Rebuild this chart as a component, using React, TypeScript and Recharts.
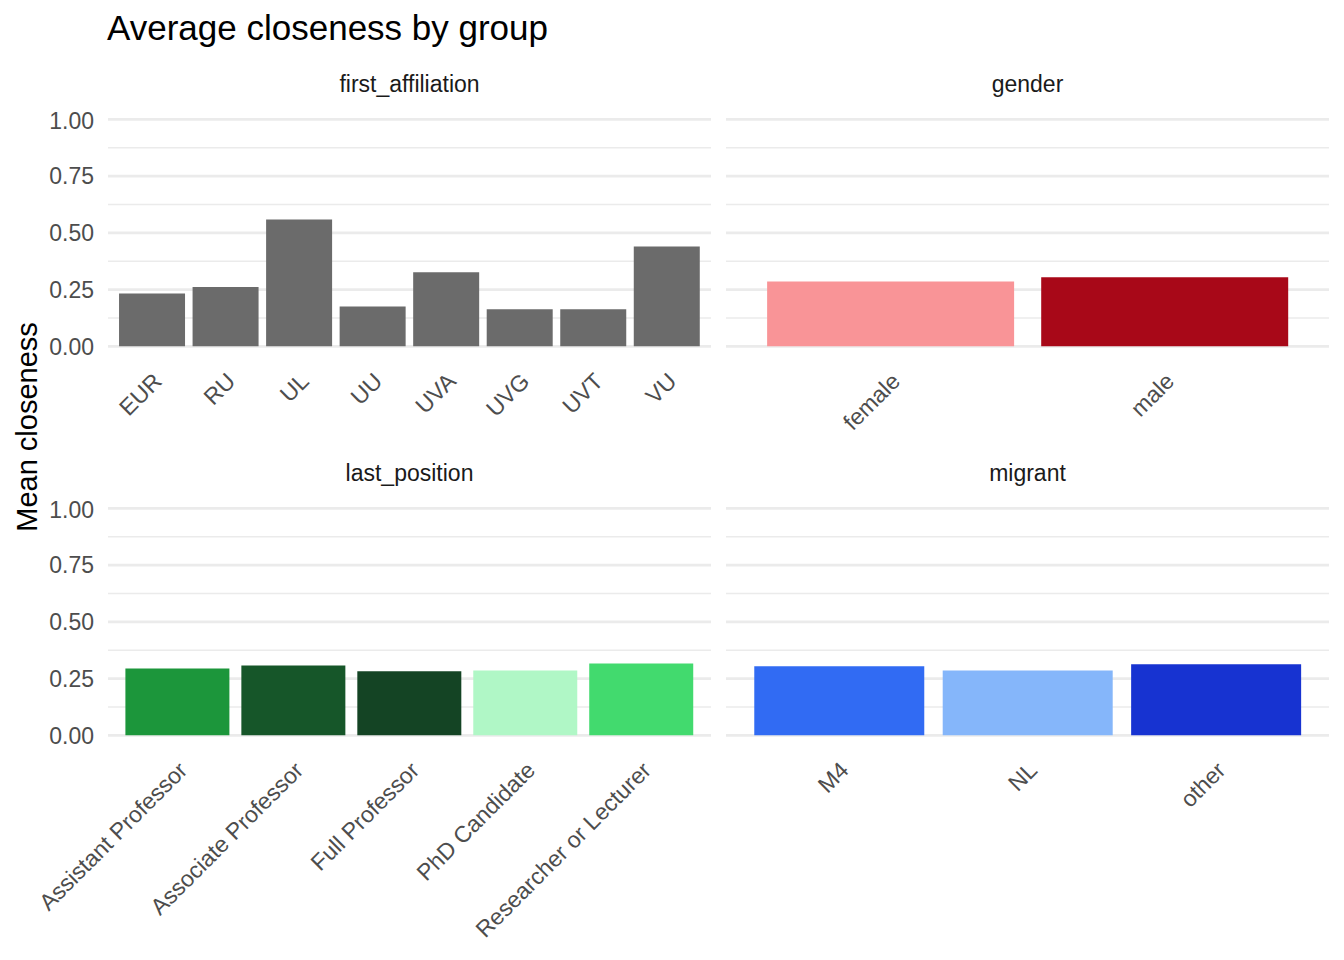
import { BarChart, Bar, XAxis, YAxis, CartesianGrid, Cell } from 'recharts';

const affiliationCats = ['EUR', 'RU', 'UL', 'UU', 'UVA', 'UVG', 'UVT', 'VU'];
const affiliationVals = [0.233, 0.261, 0.559, 0.176, 0.326, 0.163, 0.163, 0.44];
const affiliationColors = ['#6B6B6B', '#6B6B6B', '#6B6B6B', '#6B6B6B', '#6B6B6B', '#6B6B6B', '#6B6B6B', '#6B6B6B'];

const genderCats = ['female', 'male'];
const genderVals = [0.286, 0.304];
const genderColors = ['#F99497', '#A80818'];

const positionCats = ['Assistant Professor', 'Associate Professor', 'Full Professor', 'PhD Candidate', 'Researcher or Lecturer'];
const positionVals = [0.295, 0.308, 0.282, 0.286, 0.317];
const positionColors = ['#1C963B', '#165629', '#144424', '#B0F7C6', '#42DA6E'];

const migrantCats = ['M4', 'NL', 'other'];
const migrantVals = [0.304, 0.286, 0.313];
const migrantColors = ['#316BF3', '#85B6FA', '#1733D1'];

const yTicks = [0, 0.25, 0.5, 0.75, 1];
const yMinor = [0.125, 0.375, 0.625, 0.875];

const FONT = '"Liberation Sans", Arial, Helvetica, sans-serif';
const PLOT_H = 249.7;
const PLOT_W = 603;

const RotTick = (props: any) => {
  const { x, y, payload } = props;
  return (
    <g transform={`translate(${x},${y})`}>
      <text transform="rotate(-45)" textAnchor="end" dy="0.68em" fill="#4D4D4D" fontSize={23} fontFamily={FONT}>
        {payload.value}
      </text>
    </g>
  );
};

type PanelProps = {
  cats: string[];
  vals: number[];
  colors: string[];
  left: number;
  top: number;
  showY: boolean;
  xH: number;
};

function Panel({ cats, vals, colors, left, top, showY, xH }: PanelProps) {
  const data = cats.map((c, i) => ({ name: c, value: vals[i] }));
  const yW = showY ? 108 : 0;
  const pad = (PLOT_W / (cats.length + 0.2)) * 0.1;
  return (
    <div style={{ position: 'absolute', left, top }}>
      <BarChart
        width={PLOT_W + yW}
        height={PLOT_H + xH}
        data={data}
        margin={{ top: 0, right: 0, bottom: 0, left: 0 }}
        barCategoryGap="5%"
      >
        <CartesianGrid vertical={false} horizontalValues={yMinor} stroke="#EBEBEB" strokeWidth={1.4} />
        <CartesianGrid vertical={false} horizontalValues={yTicks} stroke="#EBEBEB" strokeWidth={2.8} />
        <XAxis
          dataKey="name"
          interval={0}
          axisLine={false}
          tickLine={false}
          tickSize={0}
          tickMargin={14}
          height={xH}
          padding={{ left: pad, right: pad }}
          tick={<RotTick />}
        />
        <YAxis
          type="number"
          domain={[-0.05, 1.05]}
          ticks={yTicks}
          hide={!showY}
          width={yW}
          axisLine={false}
          tickLine={false}
          tickSize={0}
          tickMargin={14}
          tickFormatter={(v: number) => v.toFixed(2)}
          tick={{ fill: '#4D4D4D', fontSize: 23, fontFamily: FONT }}
        />
        <Bar dataKey="value" isAnimationActive={false}>
          {data.map((d, i) => (
            <Cell key={d.name} fill={colors[i]} />
          ))}
        </Bar>
      </BarChart>
    </div>
  );
}

export default function App() {
  return (
    <div style={{ position: 'absolute', left: 0, top: 0, width: 1344, height: 960, overflow: 'hidden', background: '#fff', fontFamily: FONT }}>
      <svg width={1344} height={960} style={{ position: 'absolute', left: 0, top: 0 }}>
        <text x={107} y={40} fontSize={35} fill="#000" fontFamily={FONT}>Average closeness by group</text>
        <text x={409.5} y={92} fontSize={23} fill="#1A1A1A" textAnchor="middle" fontFamily={FONT}>first_affiliation</text>
        <text x={1027.5} y={92} fontSize={23} fill="#1A1A1A" textAnchor="middle" fontFamily={FONT}>gender</text>
        <text x={409.5} y={481} fontSize={23} fill="#1A1A1A" textAnchor="middle" fontFamily={FONT}>last_position</text>
        <text x={1027.5} y={481} fontSize={23} fill="#1A1A1A" textAnchor="middle" fontFamily={FONT}>migrant</text>
        <text transform="translate(37,427) rotate(-90)" fontSize={29} fill="#000" textAnchor="middle" fontFamily={FONT}>Mean closeness</text>
      </svg>
      <Panel cats={affiliationCats} vals={affiliationVals} colors={affiliationColors} left={0} top={108} showY xH={120} />
      <Panel cats={genderCats} vals={genderVals} colors={genderColors} left={726} top={108} showY={false} xH={120} />
      <Panel cats={positionCats} vals={positionVals} colors={positionColors} left={0} top={497} showY xH={200} />
      <Panel cats={migrantCats} vals={migrantVals} colors={migrantColors} left={726} top={497} showY={false} xH={200} />
    </div>
  );
}
